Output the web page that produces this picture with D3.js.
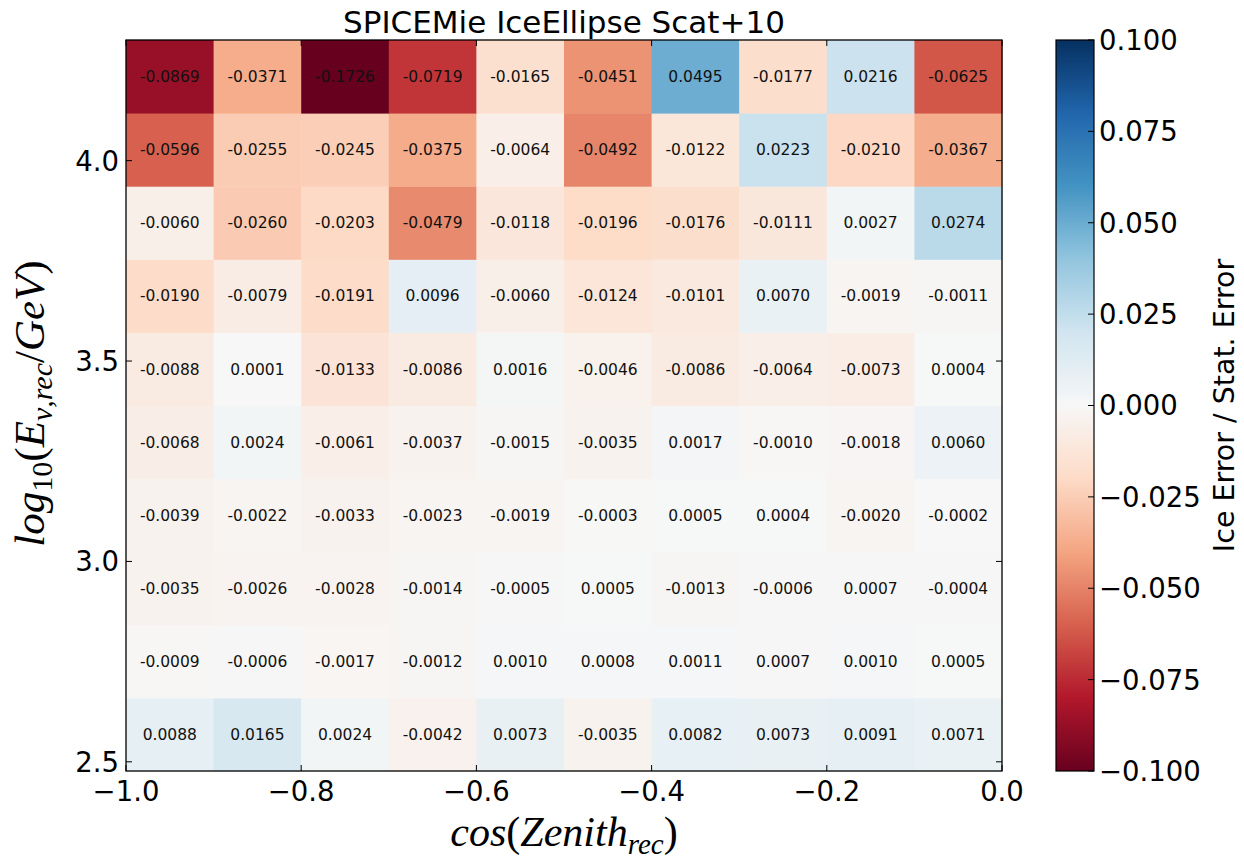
<!DOCTYPE html>
<html>
<head>
<meta charset="utf-8">
<script src="https://cdn.jsdelivr.net/npm/d3@7"></script>
<style>
  html, body { margin: 0; padding: 0; background: #fff; }
  svg { display: block; }
</style>
</head>
<body>
<svg id="chart" width="1244" height="863"></svg>
<script>
// cos(zenith) bin edges
const zenithEdges = [-1.0, -0.9, -0.8, -0.7, -0.6, -0.5, -0.4, -0.3, -0.2, -0.1, 0.0];
// log10(E / GeV) bin edges, 300 GeV .. 20 TeV in 10 log bins
const energyEdges = [2.4771, 2.6595, 2.8419, 3.0243, 3.2067, 3.3891, 3.5715, 3.7538, 3.9362, 4.1186, 4.3010];

// Ice error / stat. error, one row per energy bin, highest energy first
const row10 = [-0.0869, -0.0371, -0.1726, -0.0719, -0.0165, -0.0451,  0.0495, -0.0177,  0.0216, -0.0625];
const row9  = [-0.0596, -0.0255, -0.0245, -0.0375, -0.0064, -0.0492, -0.0122,  0.0223, -0.0210, -0.0367];
const row8  = [-0.0060, -0.0260, -0.0203, -0.0479, -0.0118, -0.0196, -0.0176, -0.0111,  0.0027,  0.0274];
const row7  = [-0.0190, -0.0079, -0.0191,  0.0096, -0.0060, -0.0124, -0.0101,  0.0070, -0.0019, -0.0011];
const row6  = [-0.0088,  0.0001, -0.0133, -0.0086,  0.0016, -0.0046, -0.0086, -0.0064, -0.0073,  0.0004];
const row5  = [-0.0068,  0.0024, -0.0061, -0.0037, -0.0015, -0.0035,  0.0017, -0.0010, -0.0018,  0.0060];
const row4  = [-0.0039, -0.0022, -0.0033, -0.0023, -0.0019, -0.0003,  0.0005,  0.0004, -0.0020, -0.0002];
const row3  = [-0.0035, -0.0026, -0.0028, -0.0014, -0.0005,  0.0005, -0.0013, -0.0006,  0.0007, -0.0004];
const row2  = [-0.0009, -0.0006, -0.0017, -0.0012,  0.0010,  0.0008,  0.0011,  0.0007,  0.0010,  0.0005];
const row1  = [ 0.0088,  0.0165,  0.0024, -0.0042,  0.0073, -0.0035,  0.0082,  0.0073,  0.0091,  0.0071];
const rowsLowToHigh = [row1, row2, row3, row4, row5, row6, row7, row8, row9, row10];

const xTicks = [-1.0, -0.8, -0.6, -0.4, -0.2, 0.0];
const yTicks = [2.5, 3.0, 3.5, 4.0];
const cbarTicks = [-0.100, -0.075, -0.050, -0.025, 0.000, 0.025, 0.050, 0.075, 0.100];

const titleText = "SPICEMie IceEllipse Scat+10";
const cbarLabel = "Ice Error / Stat. Error";

// RdBu diverging palette (ColorBrewer, 11 anchors)
const rdbu = ["#67001f", "#b2182b", "#d6604d", "#f4a582", "#fddbc7", "#f7f7f7",
              "#d1e5f0", "#92c5de", "#4393c3", "#2166ac", "#053061"];
const vmin = -0.1, vmax = 0.1;

const svg = d3.select("#chart");
const plot = { left: 126, right: 1002, top: 40, bottom: 771 };
const cbar = { left: 1056, right: 1094, top: 40, bottom: 771 };

const x = d3.scaleLinear().domain([-1, 0]).range([plot.left, plot.right]);
const y = d3.scaleLinear().domain([energyEdges[0], energyEdges[energyEdges.length - 1]])
  .range([plot.bottom, plot.top]);
const color = d3.scaleLinear()
  .domain(d3.range(rdbu.length).map(i => vmin + (vmax - vmin) * i / (rdbu.length - 1)))
  .range(rdbu)
  .interpolate(d3.interpolateRgb)
  .clamp(true);

// Flatten cells
const cells = [];
rowsLowToHigh.forEach((row, j) => {
  row.forEach((v, i) => {
    cells.push({ x0: zenithEdges[i], x1: zenithEdges[i + 1], y0: energyEdges[j], y1: energyEdges[j + 1], v });
  });
});

const sans = "'DejaVu Sans', 'Bitstream Vera Sans', sans-serif";
const serif = "'Liberation Serif', 'Times New Roman', serif";

// Heatmap cells
svg.append("g").selectAll("rect").data(cells).join("rect")
  .attr("x", d => x(d.x0))
  .attr("y", d => y(d.y1))
  .attr("width", d => x(d.x1) - x(d.x0) + 0.5)
  .attr("height", d => y(d.y0) - y(d.y1) + 0.5)
  .attr("fill", d => color(d.v));

// Cell annotations
svg.append("g").selectAll("text").data(cells).join("text")
  .attr("x", d => (x(d.x0) + x(d.x1)) / 2)
  .attr("y", d => (y(d.y0) + y(d.y1)) / 2)
  .attr("dy", "0.36em")
  .attr("text-anchor", "middle")
  .attr("font-family", sans)
  .attr("font-size", 15.5)
  .attr("fill", "#111")
  .text(d => d.v.toFixed(4));

// Frame and inward ticks on all four sides
const axes = svg.append("g").attr("stroke", "#000").attr("stroke-width", 1);
const tickLen = 6;
xTicks.forEach(t => {
  axes.append("line").attr("x1", x(t)).attr("x2", x(t)).attr("y1", plot.bottom).attr("y2", plot.bottom - tickLen);
  axes.append("line").attr("x1", x(t)).attr("x2", x(t)).attr("y1", plot.top).attr("y2", plot.top + tickLen);
});
yTicks.forEach(t => {
  axes.append("line").attr("x1", plot.left).attr("x2", plot.left + tickLen).attr("y1", y(t)).attr("y2", y(t));
  axes.append("line").attr("x1", plot.right).attr("x2", plot.right - tickLen).attr("y1", y(t)).attr("y2", y(t));
});
svg.append("rect")
  .attr("x", plot.left).attr("y", plot.top)
  .attr("width", plot.right - plot.left).attr("height", plot.bottom - plot.top)
  .attr("fill", "none").attr("stroke", "#000").attr("stroke-width", 1.3);

const fmtTick = d => d3.format(".1f")(d);   // d3 uses the typographic minus sign
svg.append("g").selectAll("text").data(xTicks).join("text")
  .attr("x", d => x(d)).attr("y", 801)
  .attr("text-anchor", "middle")
  .attr("font-family", sans).attr("font-size", 27.5).attr("fill", "#000")
  .text(fmtTick);
svg.append("g").selectAll("text").data(yTicks).join("text")
  .attr("x", plot.left - 7).attr("y", d => y(d)).attr("dy", "0.36em")
  .attr("text-anchor", "end")
  .attr("font-family", sans).attr("font-size", 27.5).attr("fill", "#000")
  .text(fmtTick);

// Title
svg.append("text")
  .attr("x", (plot.left + plot.right) / 2).attr("y", 33)
  .attr("text-anchor", "middle")
  .attr("font-family", sans).attr("font-size", 31).attr("fill", "#000")
  .text(titleText);

// x-axis label: cos(Zenith_rec)
const xl = svg.append("text")
  .attr("x", (plot.left + plot.right) / 2).attr("y", 846)
  .attr("text-anchor", "middle")
  .attr("font-family", serif).attr("font-size", 42).attr("fill", "#000");
xl.append("tspan").attr("font-style", "italic").text("cos");
xl.append("tspan").text("(");
xl.append("tspan").attr("font-style", "italic").text("Zenith");
xl.append("tspan").attr("font-style", "italic").attr("font-size", 29).attr("dy", 8).text("rec");
xl.append("tspan").attr("dy", -8).text(")");

// y-axis label: log10(E_nu,rec / GeV)
const yl = svg.append("text")
  .attr("transform", `translate(44, ${(plot.top + plot.bottom) / 2 - 2}) rotate(-90)`)
  .attr("text-anchor", "middle")
  .attr("font-family", serif).attr("font-size", 43).attr("fill", "#000");
yl.append("tspan").attr("font-style", "italic").text("log");
yl.append("tspan").attr("font-size", 30).attr("dy", 8).text("10");
yl.append("tspan").attr("dy", -8).text("(");
yl.append("tspan").attr("font-style", "italic").text("E");
yl.append("tspan").attr("font-style", "italic").attr("font-size", 30).attr("dy", 8).text("ν,rec");
yl.append("tspan").attr("dy", -8).text("/");
yl.append("tspan").attr("font-style", "italic").text("GeV");
yl.append("tspan").text(")");

// Colorbar
const cy = d3.scaleLinear().domain([vmin, vmax]).range([cbar.bottom, cbar.top]);
const defs = svg.append("defs");
const grad = defs.append("linearGradient").attr("id", "cbarGrad")
  .attr("x1", 0).attr("y1", 1).attr("x2", 0).attr("y2", 0);
d3.range(0, 1.0001, 0.02).forEach(f => {
  grad.append("stop").attr("offset", f).attr("stop-color", color(vmin + f * (vmax - vmin)));
});
svg.append("rect")
  .attr("x", cbar.left).attr("y", cbar.top)
  .attr("width", cbar.right - cbar.left).attr("height", cbar.bottom - cbar.top)
  .attr("fill", "url(#cbarGrad)").attr("stroke", "#000").attr("stroke-width", 1.2);
const cbt = svg.append("g");
cbt.selectAll("line").data(cbarTicks).join("line")
  .attr("x1", cbar.right).attr("x2", cbar.right - 6)
  .attr("y1", d => cy(d)).attr("y2", d => cy(d))
  .attr("stroke", "#000").attr("stroke-width", 1);
cbt.selectAll("text").data(cbarTicks).join("text")
  .attr("x", cbar.right + 5).attr("y", d => cy(d)).attr("dy", "0.36em")
  .attr("font-family", sans).attr("font-size", 27.5).attr("fill", "#000")
  .text(d => d3.format(".3f")(d));

svg.append("text")
  .attr("transform", `translate(1234, ${(cbar.top + cbar.bottom) / 2}) rotate(-90)`)
  .attr("text-anchor", "middle")
  .attr("font-family", sans).attr("font-size", 28.5).attr("fill", "#000")
  .text(cbarLabel);
</script>
</body>
</html>
